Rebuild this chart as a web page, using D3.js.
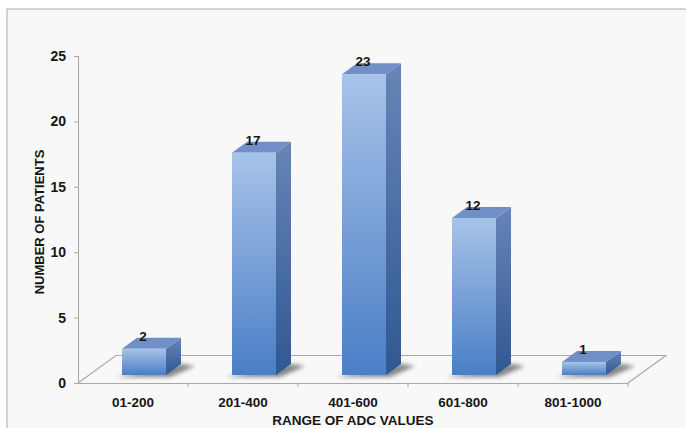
<!DOCTYPE html>
<html>
<head>
<meta charset="utf-8">
<script src="https://cdn.jsdelivr.net/npm/d3@7"></script>
<style>
  html, body { margin: 0; padding: 0; background: #fff; }
  svg text { font-family: "Liberation Sans", Arial, sans-serif; font-weight: bold; fill: #161616; }
</style>
</head>
<body>
<div id="chart"></div>
<script>
/* chart data */
var categories = ["01-200", "201-400", "401-600", "601-800", "801-1000"];
var patients = [2, 17, 23, 12, 1];
var yTicks = [0, 5, 10, 15, 20, 25];

/* size of the graphic and style parameters */
var width = 686;
var height = 428;
var floorDx = 38, floorDy = -27.5; // depth of the floor
var barDx = 15, barDy = -11;       // depth of each bar
var barShiftX = 11, barShiftY = -8; // bars stand a bit back on the floor
var labelSize = 13;

var svg = d3.select("#chart")
  .append("svg")
    .attr("width", width)
    .attr("height", height);

/* gradients */
var defs = svg.append("defs");
var gFront = defs.append("linearGradient").attr("id", "gFront")
  .attr("x1", 0).attr("y1", 0).attr("x2", 0).attr("y2", 1);
gFront.append("stop").attr("offset", "0%").attr("stop-color", "#a7c3e9");
gFront.append("stop").attr("offset", "100%").attr("stop-color", "#4a7ec6");
var gSide = defs.append("linearGradient").attr("id", "gSide")
  .attr("x1", 0).attr("y1", 0).attr("x2", 0).attr("y2", 1);
gSide.append("stop").attr("offset", "0%").attr("stop-color", "#6785b6");
gSide.append("stop").attr("offset", "100%").attr("stop-color", "#2f5892");
defs.append("filter").attr("id", "blur")
  .attr("x", "-50%").attr("y", "-50%").attr("width", "200%").attr("height", "200%")
  .append("feGaussianBlur").attr("stdDeviation", 2.2);

/* panel background and frame */
svg.append("rect")
  .attr("x", 7).attr("y", 9)
  .attr("width", width).attr("height", height)
  .attr("fill", "#f8f8f8")
  .attr("stroke", "#b8b8b8")
  .attr("stroke-width", 1.2);

/* scales */
var x = d3.scaleBand()
  .domain(categories)
  .range([78, 628]);

var y = d3.scaleLinear()
  .domain([0, 25])
  .range([383, 56]);

/* floor */
var y0 = y(0);
svg.append("path")
  .attr("d", "M" + x.range()[0] + "," + y0 +
    "L" + (x.range()[0] + floorDx) + "," + (y0 + floorDy) +
    "L" + (x.range()[1] + floorDx) + "," + (y0 + floorDy) +
    "L" + x.range()[1] + "," + y0)
  .attr("fill", "none")
  .attr("stroke", "#a8a8a8")
  .attr("stroke-width", 1.1);

/* y axis */
var yAxis = svg.append("g")
  .attr("transform", "translate(78,0)")
  .call(d3.axisLeft(y).tickValues(yTicks).tickSize(4).tickPadding(8));
yAxis.select(".domain").attr("stroke", "#a8a8a8").attr("stroke-width", 1.1);
yAxis.selectAll(".tick line").attr("stroke", "#a8a8a8");
yAxis.selectAll(".tick text")
  .style("font-size", "14px")
  .style("font-family", "Liberation Sans, Arial, sans-serif")
  .style("font-weight", "bold")
  .attr("fill", "#161616");

/* x axis along the front edge of the floor */
var xAxis = svg.append("g")
  .attr("transform", "translate(0," + y0 + ")")
  .call(d3.axisBottom(x).tickSize(0).tickPadding(14));
xAxis.select(".domain").attr("stroke", "#a8a8a8").attr("stroke-width", 1.1);
xAxis.selectAll(".tick text")
  .style("font-size", "13.5px")
  .style("font-family", "Liberation Sans, Arial, sans-serif")
  .style("font-weight", "bold")
  .attr("fill", "#161616");
/* small separator ticks between categories */
svg.selectAll(".sep")
  .data(categories)
  .enter().append("line")
    .attr("x1", function(d) { return x(d) + x.bandwidth(); })
    .attr("x2", function(d) { return x(d) + x.bandwidth(); })
    .attr("y1", y0)
    .attr("y2", y0 + 4)
    .attr("stroke", "#a8a8a8");

/* bars */
var barW = x.bandwidth() * 0.4;
var bars = svg.selectAll(".bar")
  .data(patients)
  .enter().append("g")
    .attr("class", "bar");

function front(i) { return x(categories[i]) + x.bandwidth() / 2 - barW / 2 + barShiftX; }
var base = y0 + barShiftY;

/* shadow */
bars.append("path")
  .attr("d", function(d, i) {
    var x0 = front(i), x1 = x0 + barW;
    return "M" + (x0 - 6) + "," + (base + 2) +
      "L" + (x1 + 4) + "," + (base + 2) +
      "L" + (x1 + barDx + 14) + "," + (base + barDy + 2) +
      "L" + (x1 + barDx) + "," + (base + barDy) + "Z";
  })
  .attr("fill", "#555")
  .attr("opacity", 0.7)
  .attr("filter", "url(#blur)");

/* side face */
bars.append("path")
  .attr("d", function(d, i) {
    var x1 = front(i) + barW, yt = y(d) + barShiftY;
    return "M" + x1 + "," + yt +
      "L" + (x1 + barDx) + "," + (yt + barDy) +
      "L" + (x1 + barDx) + "," + (base + barDy) +
      "L" + x1 + "," + base + "Z";
  })
  .attr("fill", "url(#gSide)");

/* top face */
bars.append("path")
  .attr("d", function(d, i) {
    var x0 = front(i), x1 = x0 + barW, yt = y(d) + barShiftY;
    return "M" + x0 + "," + yt +
      "L" + (x0 + barDx) + "," + (yt + barDy) +
      "L" + (x1 + barDx) + "," + (yt + barDy) +
      "L" + x1 + "," + yt + "Z";
  })
  .attr("fill", "#6f8fc6");

/* front face */
bars.append("rect")
  .attr("x", function(d, i) { return front(i); })
  .attr("y", function(d) { return y(d) + barShiftY; })
  .attr("width", barW)
  .attr("height", function(d) { return base - (y(d) + barShiftY); })
  .attr("fill", "url(#gFront)");

/* value labels */
bars.append("text")
  .attr("x", function(d, i) { return front(i) + barW / 2 - 1; })
  .attr("y", function(d) { return y(d) + barShiftY - 8; })
  .attr("text-anchor", "middle")
  .style("font-size", "13.5px")
  .text(function(d) { return d; });

/* axis titles */
svg.append("text")
  .attr("transform", "translate(44,222) rotate(-90)")
  .attr("text-anchor", "middle")
  .style("font-size", "13px")
  .text("NUMBER OF PATIENTS");

svg.append("text")
  .attr("x", 353)
  .attr("y", 425)
  .attr("text-anchor", "middle")
  .style("font-size", "13.5px")
  .text("RANGE OF ADC VALUES");
</script>
</body>
</html>
